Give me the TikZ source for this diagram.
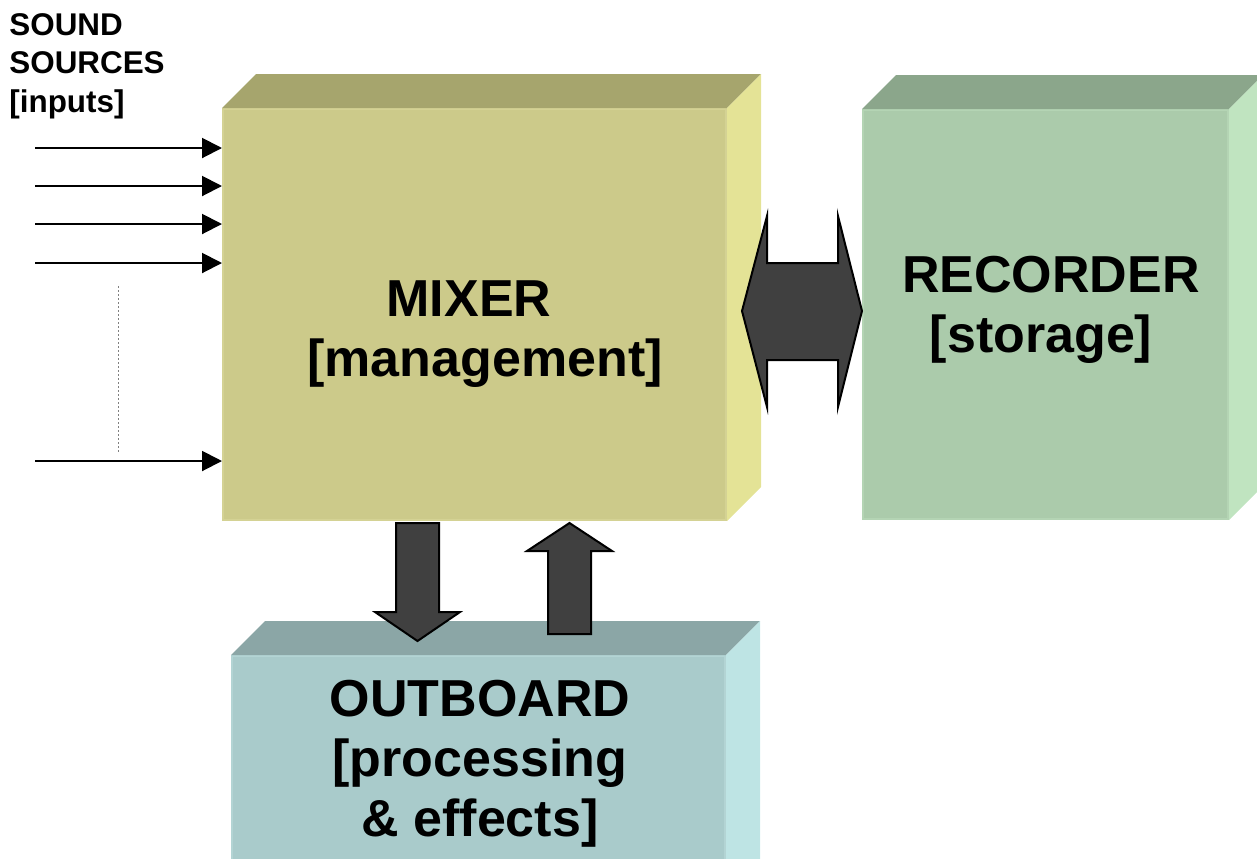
\documentclass[tikz,border=0pt]{standalone}
\usepackage{fontspec}
\setmainfont{Liberation Sans}
\usetikzlibrary{arrows.meta,calc,fit}

\definecolor{mixerfront}{HTML}{CCCA8A}
\definecolor{mixertop}{HTML}{A6A56D}
\definecolor{mixerside}{HTML}{E4E396}
\definecolor{mixeredge}{HTML}{D4D294}
\definecolor{recfront}{HTML}{ABCBAB}
\definecolor{rectop}{HTML}{8BA68B}
\definecolor{recside}{HTML}{C0E4C0}
\definecolor{recedge}{HTML}{B4D4B4}
\definecolor{outfront}{HTML}{A9CBCB}
\definecolor{outtop}{HTML}{8BA6A6}
\definecolor{outside}{HTML}{BEE4E4}
\definecolor{outedge}{HTML}{B3D4D4}
\definecolor{arrowgray}{HTML}{404040}

\tikzset{
  frontface/.style={inner sep=0pt, line width=1pt},
  blocklabel/.style={align=center, inner sep=0pt, font=\fontsize{26}{30}\selectfont\bfseries},
  inarrow/.style={line width=1pt, -{Triangle[length=10pt,width=10pt]}},
  fatarrow/.style={fill=arrowgray, draw=black, line width=1pt, line join=miter},
}

% top and right faces of a box, #1 = front node
\newcommand{\boxsides}[3]{%
  \fill[#2] (#1.north west) -- ++(34,-34) -- ($(#1.north east)+(34,-34)$) -- (#1.north east) -- cycle;
  \fill[#3] (#1.north east) -- ++(34,-34) -- ($(#1.south east)+(34,-34)$) -- (#1.south east) -- cycle;
}

\begin{document}
\begin{tikzpicture}[x=0.5pt,y=-0.5pt]
  \useasboundingbox (0,0) rectangle (1257,858);
  \clip (0,0) rectangle (1257,858);

  % boxes
  \node[frontface, fill=mixerfront, draw=mixeredge, fit={(223,109) (726,520)}] (mixer) {};
  \boxsides{mixer}{mixertop}{mixerside}
  \node[frontface, fill=recfront, draw=recedge, fit={(863,110) (1228,519)}] (recorder) {};
  \boxsides{recorder}{rectop}{recside}
  \node[frontface, fill=outfront, draw=outedge, fit={(232,656) (725,900)}] (outboard) {};
  \boxsides{outboard}{outtop}{outside}

  % labels
  \node[blocklabel, anchor=north] (mixertext) at (485,280) {MIXER\hspace*{16pt}\\{}[management]};
  \node[blocklabel, anchor=north] (rectext) at (1041,256) {\hspace*{10pt}RECORDER\\{}[storage]};
  \node[blocklabel, anchor=north] (outtext) at (480,680) {OUTBOARD\\{}[processing\\\&~effects]};
  \node[align=left, anchor=north west, inner sep=0pt,
        font=\fontsize{15.7}{19.25}\selectfont\bfseries] (sources) at (9,13)
        {SOUND\\SOURCES\\{}[inputs]};

  % inputs
  \foreach \y [count=\i] in {148,186,224,263,461} {
    \coordinate (in\i) at (35,\y);
    \draw[inarrow] (in\i) -- (in\i -| mixer.west);
  }
  \draw[gray, line width=0.5pt, dash pattern=on 1pt off 1pt] (118,286) -- (118,452);

  % mixer <-> recorder
  \coordinate (dl) at ($(mixer.north east)+(15,203)$);
  \coordinate (dr) at (dl -| recorder.west);
  \draw[fatarrow] (dl) -- ++(25,-95) -- ++(0,47) -- ($(dr)+(-24,-48)$) -- ++(0,-47) -- (dr)
    -- ++(-24,96) -- ++(0,-47) -- ($(dl)+(25,49)$) -- ++(0,47) -- cycle;

  % mixer -> outboard
  \coordinate (dtop) at ($(mixer.south west)+(195.5,2)$);
  \draw[fatarrow] ($(dtop)+(-21.5,0)$) -- ++(43,0) -- ++(0,89) -- ++(21,0) -- ++(-42.5,29)
    -- ++(-42.5,-29) -- ++(21,0) -- cycle;

  % outboard -> mixer
  \coordinate (utip) at ($(mixer.south west)+(347.5,2)$);
  \draw[fatarrow] (utip) -- ++(42.5,28) -- ++(-21,0) -- ++(0,83) -- ++(-43,0) -- ++(0,-83)
    -- ++(-21,0) -- cycle;
\end{tikzpicture}
\end{document}
